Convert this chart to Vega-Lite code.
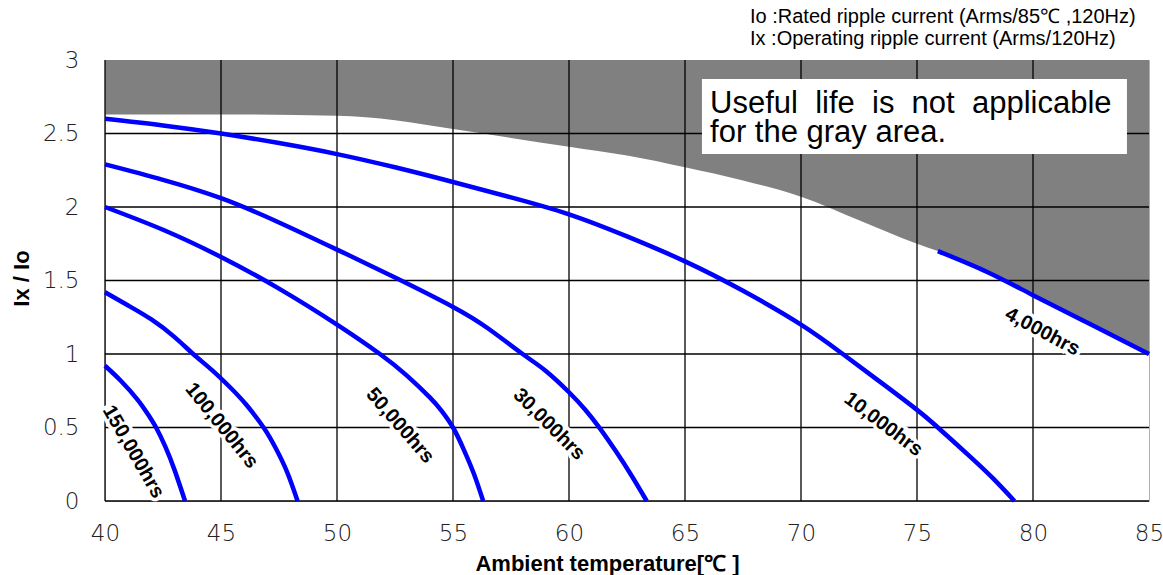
{
  "$schema": "https://vega.github.io/schema/vega-lite/v6.json",
  "autosize": {"type": "none"},
  "width": 1044,
  "height": 441,
  "padding": {"left": 105, "top": 60, "right": 14, "bottom": 74},
  "background": "white",
  "config": {"view": {"stroke": "#b0b0b0", "strokeWidth": 1}, "font": "Liberation Sans"},
  "datasets": {
    "boundary": [
      {"T": 40, "v": 2.63}, {"T": 45, "v": 2.63}, {"T": 50, "v": 2.62}, {"T": 52.5, "v": 2.59},
      {"T": 55, "v": 2.53}, {"T": 57.5, "v": 2.47}, {"T": 60, "v": 2.41}, {"T": 62.5, "v": 2.35},
      {"T": 65, "v": 2.27}, {"T": 67.5, "v": 2.18}, {"T": 70, "v": 2.07}, {"T": 72.5, "v": 1.91},
      {"T": 75, "v": 1.75}, {"T": 75.9, "v": 1.70}, {"T": 78, "v": 1.56}, {"T": 80, "v": 1.40},
      {"T": 82.5, "v": 1.20}, {"T": 85, "v": 1.0}
    ],
    "gridT": [{"T": 40}, {"T": 45}, {"T": 50}, {"T": 55}, {"T": 60}, {"T": 65}, {"T": 70}, {"T": 75}, {"T": 80}],
    "gridV": [{"v": 0}, {"v": 0.5}, {"v": 1}, {"v": 1.5}, {"v": 2}, {"v": 2.5}],
    "curves": [
      {"s": "150,000hrs", "T": 40, "v": 0.92}, {"s": "150,000hrs", "T": 40.7, "v": 0.815},
      {"s": "150,000hrs", "T": 41.4, "v": 0.69}, {"s": "150,000hrs", "T": 41.85, "v": 0.59},
      {"s": "150,000hrs", "T": 42.2, "v": 0.5}, {"s": "150,000hrs", "T": 42.6, "v": 0.37},
      {"s": "150,000hrs", "T": 43.0, "v": 0.21}, {"s": "150,000hrs", "T": 43.45, "v": 0},
      {"s": "100,000hrs", "T": 40, "v": 1.42}, {"s": "100,000hrs", "T": 41, "v": 1.33},
      {"s": "100,000hrs", "T": 42, "v": 1.235}, {"s": "100,000hrs", "T": 43, "v": 1.115},
      {"s": "100,000hrs", "T": 43.8, "v": 1.0}, {"s": "100,000hrs", "T": 44.6, "v": 0.892},
      {"s": "100,000hrs", "T": 45.4, "v": 0.772}, {"s": "100,000hrs", "T": 46.1, "v": 0.653},
      {"s": "100,000hrs", "T": 46.85, "v": 0.497}, {"s": "100,000hrs", "T": 47.35, "v": 0.362},
      {"s": "100,000hrs", "T": 47.85, "v": 0.197}, {"s": "100,000hrs", "T": 48.3, "v": 0},
      {"s": "50,000hrs", "T": 40, "v": 2.0}, {"s": "50,000hrs", "T": 42.5, "v": 1.845},
      {"s": "50,000hrs", "T": 45, "v": 1.66}, {"s": "50,000hrs", "T": 47.5, "v": 1.445},
      {"s": "50,000hrs", "T": 50, "v": 1.2}, {"s": "50,000hrs", "T": 51.85, "v": 1.0},
      {"s": "50,000hrs", "T": 53, "v": 0.855}, {"s": "50,000hrs", "T": 54, "v": 0.705},
      {"s": "50,000hrs", "T": 54.5, "v": 0.615}, {"s": "50,000hrs", "T": 55, "v": 0.5},
      {"s": "50,000hrs", "T": 55.45, "v": 0.355}, {"s": "50,000hrs", "T": 55.9, "v": 0.185},
      {"s": "50,000hrs", "T": 56.3, "v": 0},
      {"s": "30,000hrs", "T": 40, "v": 2.29}, {"s": "30,000hrs", "T": 42.5, "v": 2.185},
      {"s": "30,000hrs", "T": 45, "v": 2.06}, {"s": "30,000hrs", "T": 47.5, "v": 1.895},
      {"s": "30,000hrs", "T": 50, "v": 1.71}, {"s": "30,000hrs", "T": 52.5, "v": 1.52},
      {"s": "30,000hrs", "T": 55, "v": 1.32}, {"s": "30,000hrs", "T": 56.5, "v": 1.175},
      {"s": "30,000hrs", "T": 58, "v": 1.0}, {"s": "30,000hrs", "T": 59, "v": 0.885},
      {"s": "30,000hrs", "T": 60, "v": 0.74}, {"s": "30,000hrs", "T": 60.7, "v": 0.621},
      {"s": "30,000hrs", "T": 61.3, "v": 0.501}, {"s": "30,000hrs", "T": 62.0, "v": 0.343},
      {"s": "30,000hrs", "T": 62.7, "v": 0.172}, {"s": "30,000hrs", "T": 63.35, "v": 0},
      {"s": "10,000hrs", "T": 40, "v": 2.60}, {"s": "10,000hrs", "T": 42.5, "v": 2.555},
      {"s": "10,000hrs", "T": 45, "v": 2.50}, {"s": "10,000hrs", "T": 47.5, "v": 2.435},
      {"s": "10,000hrs", "T": 50, "v": 2.36}, {"s": "10,000hrs", "T": 52.5, "v": 2.27},
      {"s": "10,000hrs", "T": 55, "v": 2.17}, {"s": "10,000hrs", "T": 57.5, "v": 2.065},
      {"s": "10,000hrs", "T": 60, "v": 1.95}, {"s": "10,000hrs", "T": 62.5, "v": 1.80},
      {"s": "10,000hrs", "T": 65, "v": 1.63}, {"s": "10,000hrs", "T": 67.5, "v": 1.43},
      {"s": "10,000hrs", "T": 70, "v": 1.20}, {"s": "10,000hrs", "T": 71.8, "v": 1.0},
      {"s": "10,000hrs", "T": 73.5, "v": 0.80}, {"s": "10,000hrs", "T": 75, "v": 0.62},
      {"s": "10,000hrs", "T": 75.9, "v": 0.5}, {"s": "10,000hrs", "T": 77.3, "v": 0.30},
      {"s": "10,000hrs", "T": 78.3, "v": 0.15}, {"s": "10,000hrs", "T": 79.2, "v": 0},
      {"s": "4,000hrs", "T": 75.9, "v": 1.70}, {"s": "4,000hrs", "T": 78, "v": 1.56},
      {"s": "4,000hrs", "T": 80, "v": 1.40}, {"s": "4,000hrs", "T": 82.5, "v": 1.20},
      {"s": "4,000hrs", "T": 85, "v": 1.0}
    ],
    "labels": [
      {"label": "150,000hrs", "T": 41.22, "v": 0.335},
      {"label": "100,000hrs", "T": 45.03, "v": 0.512},
      {"label": "50,000hrs", "T": 52.72, "v": 0.512},
      {"label": "30,000hrs", "T": 59.14, "v": 0.522},
      {"label": "10,000hrs", "T": 73.55, "v": 0.522},
      {"label": "4,000hrs", "T": 80.41, "v": 1.152}
    ]
  },
  "layer": [
    {
      "data": {"name": "boundary"},
      "mark": {"type": "area", "color": "#808080", "interpolate": "monotone"},
      "encoding": {
        "x": {
          "field": "T", "type": "quantitative",
          "scale": {"domain": [40, 85], "nice": false, "zero": false},
          "axis": {
            "values": [40, 45, 50, 55, 60, 65, 70, 75, 80, 85], "format": "d",
            "grid": false, "domain": false, "ticks": false,
            "labelFont": "DejaVu Sans", "labelFontSize": 23, "labelFontWeight": 200, "labelColor": "#222",
            "labelPadding": 21, "labelFlush": false, "labelOverlap": false, "labelBaseline": "top",
            "title": "Ambient temperature[℃ ]", "titleFont": "Liberation Sans", "titleFontSize": 22,
            "titleFontWeight": "bold", "titleColor": "#000", "titleX": 502, "titleY": 69,
            "titleBaseline": "alphabetic", "titleAlign": "center"
          }
        },
        "y": {
          "field": "v", "type": "quantitative",
          "scale": {"domain": [0, 3], "nice": false},
          "axis": {
            "values": [0, 0.5, 1, 1.5, 2, 2.5, 3], "format": "~g",
            "grid": false, "domain": false, "ticks": false,
            "labelFont": "DejaVu Sans", "labelFontSize": 23, "labelFontWeight": 200, "labelColor": "#222",
            "labelPadding": 26, "labelFlush": false, "labelOverlap": false, "labelBaseline": "middle",
            "title": "Ix / Io", "titleFont": "Liberation Sans", "titleFontSize": 22,
            "titleFontWeight": "bold", "titleColor": "#000", "titleX": -84, "titleY": 218,
            "titleAngle": -90, "titleBaseline": "middle", "titleAlign": "center"
          }
        },
        "y2": {"datum": 3}
      }
    },
    {
      "data": {"name": "gridT"},
      "mark": {"type": "rule", "color": "#000", "strokeWidth": 1.3},
      "encoding": {"x": {"field": "T", "type": "quantitative"}}
    },
    {
      "data": {"name": "gridV"},
      "mark": {"type": "rule", "color": "#000", "strokeWidth": 1.3},
      "encoding": {"y": {"field": "v", "type": "quantitative"}}
    },
    {
      "data": {"name": "curves"},
      "mark": {"type": "line", "color": "#0000ff", "strokeWidth": 4.5, "interpolate": "natural"},
      "encoding": {
        "x": {"field": "T", "type": "quantitative"},
        "y": {"field": "v", "type": "quantitative"},
        "detail": {"field": "s", "type": "nominal"}
      }
    },
    {
      "data": {"name": "labels"},
      "mark": {"type": "text", "font": "Liberation Sans", "fontWeight": "bold", "fontSize": 20,
               "align": "center", "baseline": "middle", "fill": "white", "stroke": "white", "strokeWidth": 7},
      "encoding": {
        "x": {"field": "T", "type": "quantitative"},
        "y": {"field": "v", "type": "quantitative"},
        "text": {"field": "label"},
        "angle": {"field": "label", "type": "nominal", "legend": null,
                  "scale": {"type": "ordinal",
                            "domain": ["150,000hrs", "100,000hrs", "50,000hrs", "30,000hrs", "10,000hrs", "4,000hrs"],
                            "range": [60, 51, 49, 45, 37, 28]}}
      }
    },
    {
      "data": {"name": "labels"},
      "mark": {"type": "text", "font": "Liberation Sans", "fontWeight": "bold", "fontSize": 20,
               "align": "center", "baseline": "middle", "fill": "#000"},
      "encoding": {
        "x": {"field": "T", "type": "quantitative"},
        "y": {"field": "v", "type": "quantitative"},
        "text": {"field": "label"},
        "angle": {"field": "label", "type": "nominal", "legend": null,
                  "scale": {"type": "ordinal",
                            "domain": ["150,000hrs", "100,000hrs", "50,000hrs", "30,000hrs", "10,000hrs", "4,000hrs"],
                            "range": [60, 51, 49, 45, 37, 28]}}
      }
    },
    {
      "data": {"values": [{}]},
      "mark": {"type": "rect", "color": "white"},
      "encoding": {
        "x": {"datum": 65.73}, "x2": {"datum": 84.05},
        "y": {"datum": 2.87}, "y2": {"datum": 2.36}
      }
    },
    {
      "data": {"values": [{}]},
      "mark": {"type": "text", "font": "Liberation Sans", "fontSize": 31, "align": "left",
               "baseline": "alphabetic", "lineHeight": 29, "color": "#000",
               "text": ["Useful\u00a0 life\u00a0 is\u00a0 not\u00a0 applicable", "for the gray area."]},
      "encoding": {"x": {"datum": 66.08}, "y": {"datum": 2.637}}
    },
    {
      "data": {"values": [{}]},
      "mark": {"type": "text", "font": "Liberation Sans", "fontSize": 20, "align": "left",
               "baseline": "alphabetic", "lineHeight": 22, "color": "#000",
               "text": ["Io :Rated ripple current (Arms/85℃ ,120Hz)", "Ix :Operating ripple current (Arms/120Hz)"]},
      "encoding": {"x": {"datum": 67.8}, "y": {"datum": 3.252}}
    }
  ]
}
